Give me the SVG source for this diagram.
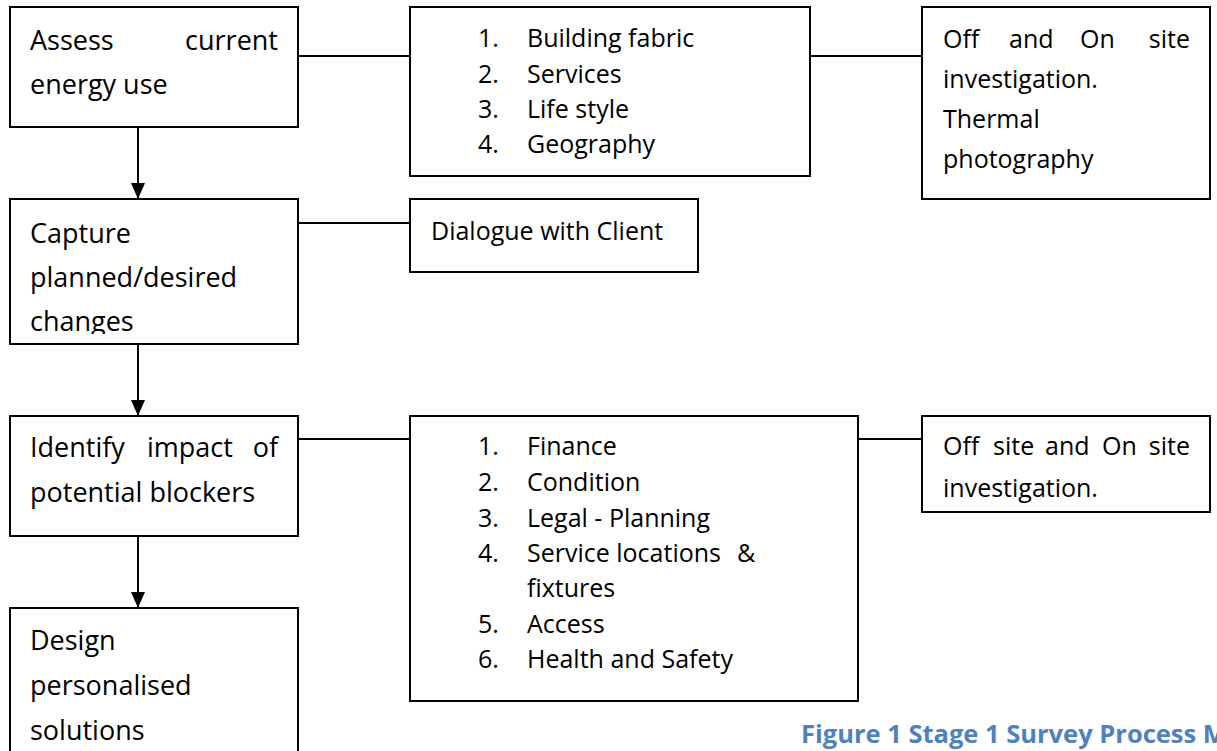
<svg xmlns="http://www.w3.org/2000/svg" width="1217" height="751" viewBox="0 0 1217 751">
<style>
.box{fill:#fff;stroke:#000;stroke-width:2}
.ln{fill:none;stroke:#000;stroke-width:2}
text{font-family:"Open Sans","Noto Sans","DejaVu Sans",sans-serif;font-size:25px;fill:#000}
.big{font-size:27px}
.end{text-anchor:end}
.cap{font-weight:bold;font-size:25.5px;fill:#4F81BD}
</style>
<defs>
<marker id="ah" viewBox="0 0 16 14" refX="16" refY="7" markerWidth="16" markerHeight="14" markerUnits="userSpaceOnUse" orient="auto">
<path d="M0,0 L16,7 L0,14 z" fill="#000"/>
</marker>
<clipPath id="clipCap"><rect x="10" y="199" width="288" height="135"/></clipPath>
</defs>
<rect width="1217" height="751" fill="#fff"/>
<g id="connectors">
<line class="ln" x1="298" y1="56" x2="410" y2="56"/>
<line class="ln" x1="810" y1="56" x2="922" y2="56"/>
<line class="ln" x1="298" y1="223" x2="410" y2="223"/>
<line class="ln" x1="298" y1="439" x2="410" y2="439"/>
<line class="ln" x1="858" y1="439" x2="922" y2="439"/>
<line class="ln" x1="138" y1="127" x2="138" y2="199" marker-end="url(#ah)"/>
<line class="ln" x1="138" y1="344" x2="138" y2="416" marker-end="url(#ah)"/>
<line class="ln" x1="138" y1="536" x2="138" y2="608" marker-end="url(#ah)"/>
</g>
<g id="assess">
<rect class="box" x="10" y="7" width="288" height="120"/>
<text class="big" x="30" y="50">Assess</text>
<text class="big end" x="278" y="50">current</text>
<text class="big" x="30" y="94">energy use</text>
</g>
<g id="list1">
<rect class="box" x="410" y="7" width="400" height="169"/>
<text x="478" y="47">1.</text><text x="527" y="47">Building fabric</text>
<text x="478" y="83">2.</text><text x="527" y="83">Services</text>
<text x="478" y="118">3.</text><text x="527" y="118">Life style</text>
<text x="478" y="153">4.</text><text x="527" y="153">Geography</text>
</g>
<g id="investigation1">
<rect class="box" x="922" y="7" width="288" height="192"/>
<text x="943" y="48">Off</text>
<text x="1009" y="48">and</text>
<text x="1080" y="48">On</text>
<text class="end" x="1190" y="48">site</text>
<text x="943" y="88">investigation.</text>
<text x="943" y="128">Thermal</text>
<text x="943" y="168">photography</text>
</g>
<g id="capture">
<rect class="box" x="10" y="199" width="288" height="145"/>
<g clip-path="url(#clipCap)">
<text class="big" x="30" y="243">Capture</text>
<text class="big" x="30" y="287">planned/desired</text>
<text class="big" x="30" y="331">changes</text>
</g>
</g>
<g id="dialogue">
<rect class="box" x="410" y="199" width="288" height="73"/>
<text x="431" y="240">Dialogue with Client</text>
</g>
<g id="identify">
<rect class="box" x="10" y="416" width="288" height="120"/>
<text class="big" x="30" y="457">Identify</text>
<text class="big" x="147" y="457">impact</text>
<text class="big end" x="278" y="457">of</text>
<text class="big" x="30" y="502">potential blockers</text>
</g>
<g id="list2">
<rect class="box" x="410" y="416" width="448" height="285"/>
<text x="478" y="455">1.</text><text x="527" y="455">Finance</text>
<text x="478" y="491">2.</text><text x="527" y="491">Condition</text>
<text x="478" y="527">3.</text><text x="527" y="527">Legal - Planning</text>
<text x="478" y="562">4.</text><text x="527" y="562">Service locations</text><text x="737" y="562">&amp;</text>
<text x="527" y="597">fixtures</text>
<text x="478" y="633">5.</text><text x="527" y="633">Access</text>
<text x="478" y="668">6.</text><text x="527" y="668">Health and Safety</text>
</g>
<g id="investigation2">
<rect class="box" x="922" y="416" width="288" height="96"/>
<text x="943" y="455">Off</text>
<text x="993" y="455">site</text>
<text x="1045" y="455">and</text>
<text x="1102" y="455">On</text>
<text class="end" x="1190" y="455">site</text>
<text x="943" y="497">investigation.</text>
</g>
<g id="design">
<path class="box" d="M10,765 V608 H298 V765"/>
<text class="big" x="30" y="650">Design</text>
<text class="big" x="30" y="695">personalised</text>
<text class="big" x="30" y="740">solutions</text>
</g>
<g id="caption">
<text class="cap" x="801" y="743">Figure 1 Stage 1 Survey Process M</text>
</g>
</svg>
